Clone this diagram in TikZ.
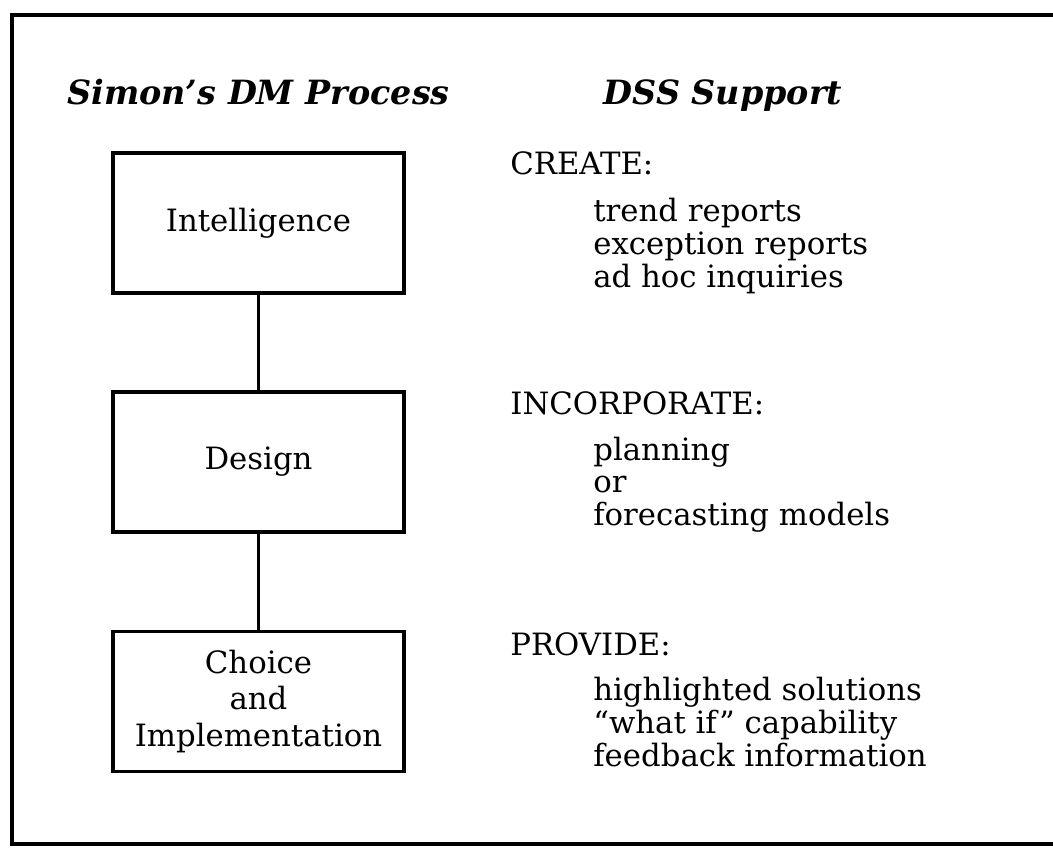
\documentclass[tikz,border=0pt]{standalone}
\usepackage{fontspec}
\setmainfont{DejaVu Serif}
\usetikzlibrary{positioning}
\tikzset{
  stage/.style={draw, line width=2pt, minimum width=5.82cm, minimum height=2.8cm,
    align=center, font=\fontsize{17.5}{20.5}\selectfont},
  heading/.style={anchor=base, font=\fontsize{19}{22}\selectfont\bfseries\itshape},
  support/.style={anchor=base west, inner sep=0pt, font=\fontsize{17.5}{20.5}\selectfont},
}
\begin{document}
\begin{tikzpicture}
  \useasboundingbox (0,0) rectangle (21.06,16.96);
  % frame, open on the right
  \draw[line width=2.6pt] (21.06,16.66) -- (0.24,16.66) -- (0.24,0.08) -- (21.06,0.08);
  \node[heading] (proc) at (5.17,14.86) {Simon's DM Process};
  \node[heading] (dss) at (14.46,14.86) {DSS Support};
  % the three stages
  \node[stage] (intel) at (5.17,12.50) {Intelligence};
  \node[stage] (design) at (5.17,7.72) {Design};
  \node[stage] (choice) at (5.17,2.93) {Choice\\and\\Implementation};
  \begin{scope}[line width=2pt]
    \draw (intel) -- (design);
    \draw (design) -- (choice);
  \end{scope}
  % support lists
  \node[support] (create) at (10.2,13.46) {CREATE:};
  \node[support] (trend) at (11.86,12.52) {trend reports};
  \node[support] (except) at (11.86,11.86) {exception reports};
  \node[support] (adhoc) at (11.86,11.20) {ad hoc inquiries};
  \node[support] (incorp) at (10.2,8.66) {INCORPORATE:};
  \node[support] (plan) at (11.86,7.76) {planning};
  \node[support] (or) at (11.86,7.10) {or};
  \node[support] (fore) at (11.86,6.44) {forecasting models};
  \node[support] (provide) at (10.2,3.86) {PROVIDE:};
  \node[support] (high) at (11.86,2.96) {highlighted solutions};
  \node[support] (whatif) at (11.86,2.30) {“what if” capability};
  \node[support] (feed) at (11.86,1.64) {feedback information};
\end{tikzpicture}
\end{document}
